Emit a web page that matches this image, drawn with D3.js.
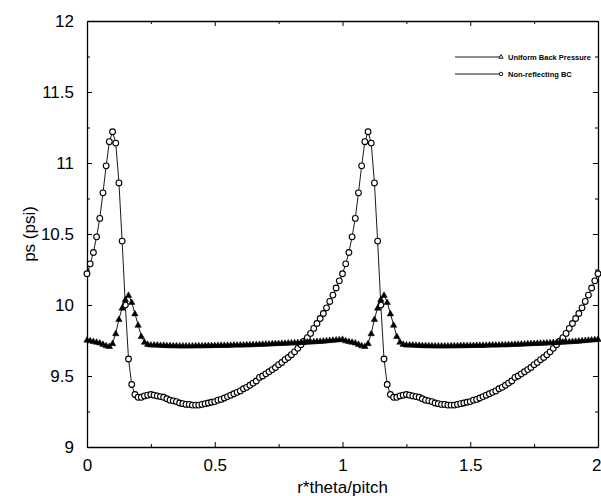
<!DOCTYPE html>
<html><head><meta charset="utf-8">
<script src="https://cdn.jsdelivr.net/npm/d3@7"></script>
<style>body{margin:0;background:#fff}svg{display:block}text{font-family:"Liberation Sans",Arial,sans-serif;fill:#000}</style>
</head><body><div id="chart"></div>
<script>
// x positions: r*theta/pitch, step 0.0125 from 0 to 2
const xStepCount = 160;
const xValues = d3.range(0, xStepCount + 1).map(i => i / 80);

// Non-reflecting BC (circles)
const nrbc = [
 10.22,10.29,10.37,10.48,10.61,10.79,10.98,11.15,11.22,11.14,
 10.86,10.45,10.00,9.62,9.44,9.37,9.35,9.35,9.36,9.365,
 9.37,9.365,9.36,9.355,9.35,9.34,9.33,9.325,9.32,9.31,
 9.305,9.30,9.30,9.295,9.295,9.295,9.30,9.305,9.31,9.315,
 9.32,9.33,9.335,9.345,9.355,9.365,9.375,9.385,9.395,9.41,
 9.42,9.435,9.45,9.465,9.49,9.50,9.515,9.53,9.545,9.56,
 9.58,9.595,9.615,9.63,9.65,9.67,9.695,9.72,9.745,9.77,
 9.80,9.835,9.87,9.905,9.94,9.98,10.025,10.07,10.12,10.17,
 10.22,10.29,10.37,10.48,10.61,10.79,10.98,11.15,11.22,11.14,
 10.86,10.45,10.00,9.62,9.44,9.37,9.35,9.35,9.36,9.365,
 9.37,9.365,9.36,9.355,9.35,9.34,9.33,9.325,9.32,9.31,
 9.305,9.30,9.30,9.295,9.295,9.295,9.30,9.305,9.31,9.315,
 9.32,9.33,9.335,9.345,9.355,9.365,9.375,9.385,9.395,9.41,
 9.42,9.435,9.45,9.465,9.49,9.50,9.515,9.53,9.545,9.56,
 9.58,9.595,9.615,9.63,9.65,9.67,9.695,9.72,9.745,9.77,
 9.80,9.835,9.87,9.905,9.94,9.98,10.025,10.07,10.12,10.17,
 10.22
];

// Uniform Back Pressure (triangles)
const ubp = [
 9.755,9.75,9.745,9.74,9.735,9.725,9.715,9.71,9.73,9.80,
 9.90,9.98,10.04,10.07,10.02,9.94,9.86,9.78,9.74,9.725,
 9.72,9.72,9.72,9.718,9.718,9.716,9.716,9.715,9.715,9.714,
 9.714,9.714,9.714,9.714,9.715,9.715,9.715,9.716,9.716,9.716,
 9.717,9.717,9.718,9.718,9.718,9.719,9.72,9.72,9.72,9.721,
 9.722,9.722,9.723,9.724,9.725,9.726,9.727,9.728,9.729,9.73,
 9.731,9.732,9.733,9.734,9.735,9.736,9.737,9.738,9.74,9.741,
 9.742,9.743,9.745,9.746,9.748,9.75,9.752,9.754,9.756,9.758,
 9.76,9.75,9.745,9.74,9.735,9.725,9.715,9.71,9.73,9.80,
 9.90,9.98,10.04,10.07,10.02,9.94,9.86,9.78,9.74,9.725,
 9.72,9.72,9.72,9.718,9.718,9.716,9.716,9.715,9.715,9.714,
 9.714,9.714,9.714,9.714,9.715,9.715,9.715,9.716,9.716,9.716,
 9.717,9.717,9.718,9.718,9.718,9.719,9.72,9.72,9.72,9.721,
 9.722,9.722,9.723,9.724,9.725,9.726,9.727,9.728,9.729,9.73,
 9.731,9.732,9.733,9.734,9.735,9.736,9.737,9.738,9.74,9.741,
 9.742,9.743,9.745,9.746,9.748,9.75,9.752,9.754,9.756,9.758,
 9.76
];

const xTickValues = [0, 0.5, 1, 1.5, 2];
const xTickLabels = ["0", "0.5", "1", "1.5", "2"];
const yTickValues = [9, 9.5, 10, 10.5, 11, 11.5, 12];
const yTickLabels = ["9", "9.5", "10", "10.5", "11", "11.5", "12"];
const xMinorTicks = [0.25, 0.75, 1.25, 1.75];
const yMinorTicks = [9.25, 9.75, 10.25, 10.75, 11.25, 11.75];
const seriesNames = ["Uniform Back Pressure", "Non-reflecting BC"];

const W = 601, H = 496;
const m = {left: 87, right: 3, top: 21, bottom: 49};
const svg = d3.select("#chart").append("svg").attr("width", W).attr("height", H);
const x = d3.scaleLinear().domain([0, 2]).range([m.left, W - m.right]);
const y = d3.scaleLinear().domain([9, 12]).range([H - m.bottom, m.top]);

function styleAxis(g) {
  g.selectAll("path").attr("stroke", "#000").attr("stroke-width", 1.3);
  g.selectAll("line").attr("stroke", "#000").attr("stroke-width", 1);
  g.selectAll("text").style("font-size", "17px").attr("fill", "#000");
}
// bottom
const bx = svg.append("g").attr("transform", `translate(0,${y(9)})`)
  .call(d3.axisBottom(x).tickValues(xTickValues).tickFormat((d,i)=>xTickLabels[i]).tickSize(-5).tickSizeOuter(0).tickPadding(12))
  .call(styleAxis);
bx.selectAll(".tick text").filter(d => d === 2).attr("text-anchor", "end").attr("x", 3);
svg.append("g").attr("transform", `translate(0,${y(9)})`)
  .call(d3.axisBottom(x).tickValues(xMinorTicks).tickFormat("").tickSize(-3).tickSizeOuter(0))
  .call(styleAxis).select("path").remove();
// top
svg.append("g").attr("transform", `translate(0,${y(12)})`)
  .call(d3.axisTop(x).tickValues(xTickValues).tickFormat("").tickSize(-5).tickSizeOuter(0))
  .call(styleAxis);
svg.append("g").attr("transform", `translate(0,${y(12)})`)
  .call(d3.axisTop(x).tickValues(xMinorTicks).tickFormat("").tickSize(-3).tickSizeOuter(0))
  .call(styleAxis).select("path").remove();
// left
svg.append("g").attr("transform", `translate(${x(0)},0)`)
  .call(d3.axisLeft(y).tickValues(yTickValues).tickFormat((d,i)=>yTickLabels[i]).tickSize(-5).tickSizeOuter(0).tickPadding(13))
  .call(styleAxis);
svg.append("g").attr("transform", `translate(${x(0)},0)`)
  .call(d3.axisLeft(y).tickValues(yMinorTicks).tickFormat("").tickSize(-3).tickSizeOuter(0))
  .call(styleAxis).select("path").remove();
// right
svg.append("g").attr("transform", `translate(${x(2)},0)`)
  .call(d3.axisRight(y).tickValues(yTickValues).tickFormat("").tickSize(-5).tickSizeOuter(0))
  .call(styleAxis);
svg.append("g").attr("transform", `translate(${x(2)},0)`)
  .call(d3.axisRight(y).tickValues(yMinorTicks).tickFormat("").tickSize(-3).tickSizeOuter(0))
  .call(styleAxis).select("path").remove();

// axis titles
svg.append("text").attr("x", x(1)).attr("y", 493).attr("text-anchor", "middle")
  .style("font-size", "17px").text("r*theta/pitch");
svg.append("text").attr("transform", `translate(35,${(y(9)+y(12))/2}) rotate(-90)`)
  .attr("text-anchor", "middle").style("font-size", "17px").text("ps (psi)");

const line = d3.line().x((d,i)=>x(xValues[i])).y(d=>y(d));
const tri = d3.symbol().type(d3.symbolTriangle).size(18);
const circ = d3.symbol().type(d3.symbolCircle).size(26);

// Non-reflecting BC
svg.append("path").datum(nrbc).attr("d", line).attr("fill", "none").attr("stroke", "#000").attr("stroke-width", 0.9);
svg.append("g").selectAll("path").data(nrbc).join("path")
  .attr("transform", (d,i)=>`translate(${x(xValues[i])},${y(d)})`)
  .attr("d", circ).attr("fill", "#fff").attr("stroke", "#000").attr("stroke-width", 1.1);
// Uniform Back Pressure
svg.append("path").datum(ubp).attr("d", line).attr("fill", "none").attr("stroke", "#000").attr("stroke-width", 0.9);
svg.append("g").selectAll("path").data(ubp).join("path")
  .attr("transform", (d,i)=>`translate(${x(xValues[i])},${y(d)+0.5})`)
  .attr("d", tri).attr("fill", "#000").attr("stroke", "#000").attr("stroke-width", 0.5);

// legend
const lg = svg.append("g");
const legRows = [{name: seriesNames[0], sym: d3.symbol().type(d3.symbolTriangle).size(8), fill: "#fff", yy: 57},
                 {name: seriesNames[1], sym: d3.symbol().type(d3.symbolCircle).size(10), fill: "#fff", yy: 74}];
legRows.forEach(r => {
  lg.append("line").attr("x1", 455).attr("x2", 500).attr("y1", r.yy).attr("y2", r.yy)
    .attr("stroke", "#000").attr("stroke-width", 0.9);
  lg.append("path").attr("transform", `translate(501,${r.yy})`).attr("d", r.sym)
    .attr("fill", r.fill).attr("stroke", "#000").attr("stroke-width", 0.9);
  lg.append("text").attr("x", 508).attr("y", r.yy).attr("dy", "0.35em")
    .style("font-size", "7.5px").style("font-weight", "bold").text(r.name);
});
</script></body></html>
